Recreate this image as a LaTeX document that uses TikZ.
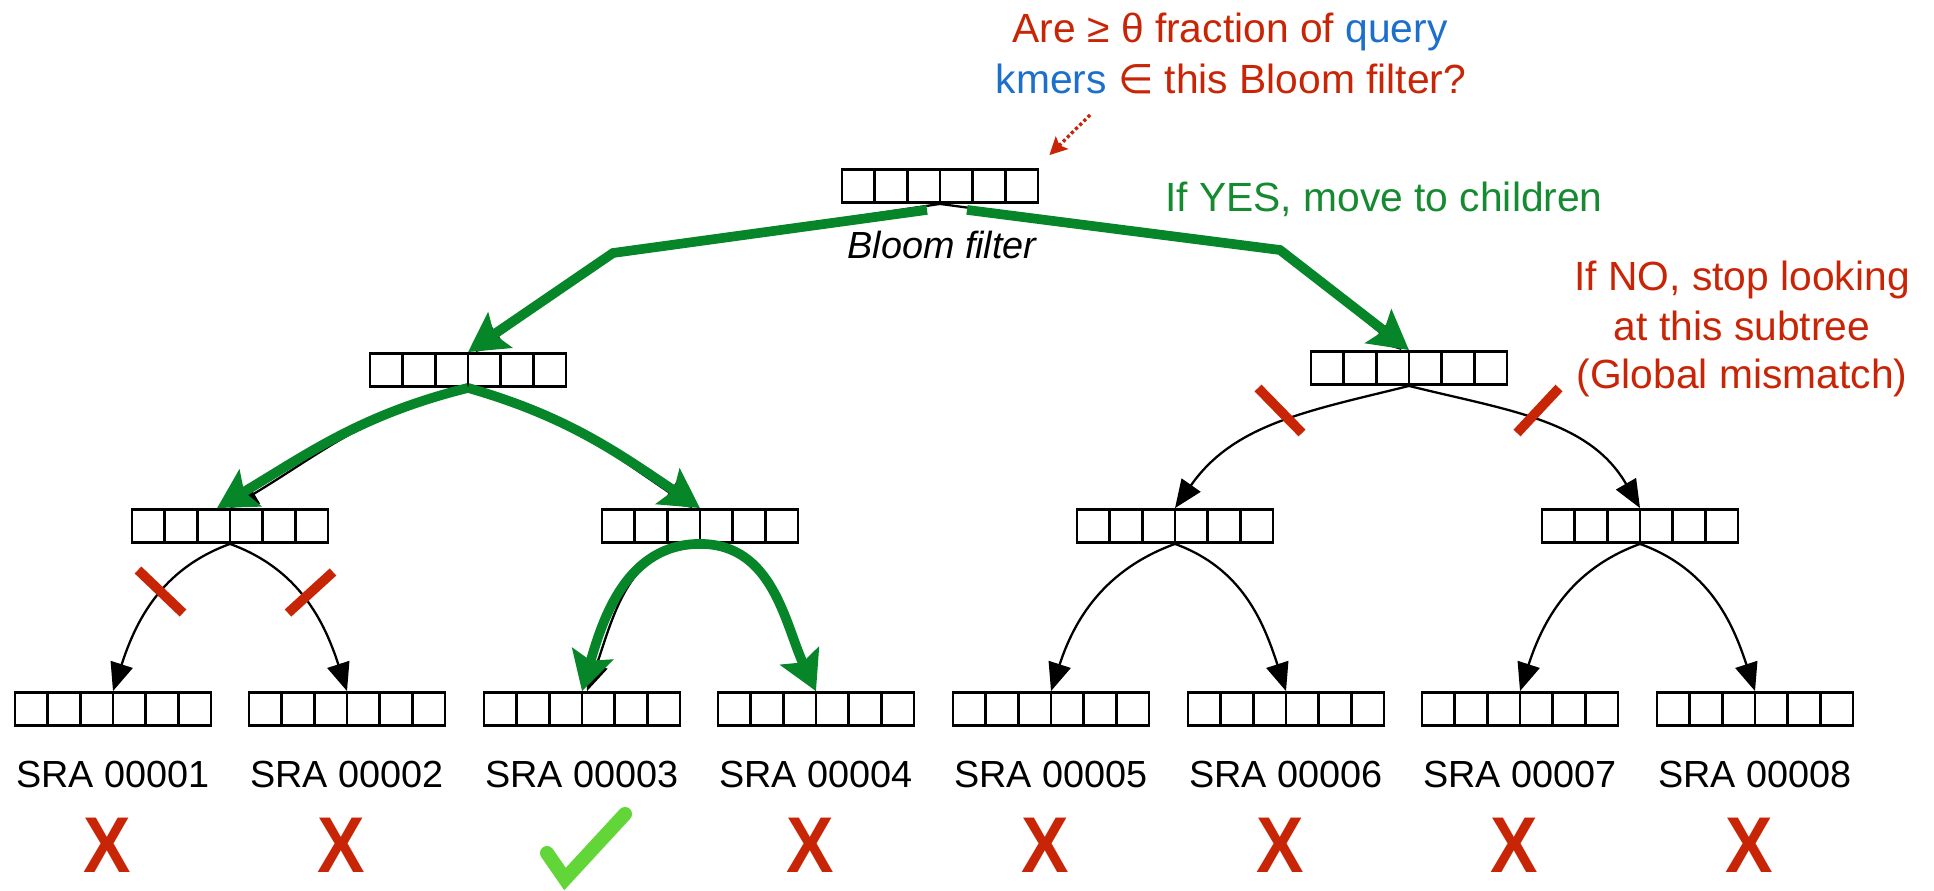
\documentclass[tikz,border=0pt]{standalone}
\usepackage{graphicx}
\usepackage{fontspec}
\setmainfont{Liberation Sans}
\newfontfamily\symbolfont{DejaVu Sans}
\usetikzlibrary{arrows.meta}

\definecolor{qred}{HTML}{C82506}
\definecolor{qblue}{HTML}{1C6FCB}
\definecolor{yesgreen}{HTML}{158A30}
\definecolor{pathgreen}{HTML}{068628}
\definecolor{tickgreen}{HTML}{62D638}

\tikzset{
  bloom/.style={draw, line width=1.6pt, minimum width=39.2mm, minimum height=6.6mm, inner sep=0pt,
    path picture={\foreach \k in {1,...,5}
      \draw[line width=1.6pt] ([xshift=\k*6.5333mm]path picture bounding box.south west)
        -- ([xshift=\k*6.5333mm]path picture bounding box.north west);}},
  link/.style={line width=1.3pt, -{Triangle[length=16pt,width=13pt]}},
  hit/.style={pathgreen, line width=5.5pt, -{Stealth[length=22pt,width=24pt,inset=4pt]}},
  cutmark/.style={qred, line width=5.5pt},
  hintarrow/.style={qred, line width=1.9pt, dash pattern=on 1.8pt off 1.5pt,
    -{Stealth[length=10pt,width=10pt,inset=2pt]}},
  note/.style={font=\fontsize{23.2}{28}\selectfont, anchor=base, inner sep=0pt},
  sra/.style={font=\fontsize{21.5}{26}\selectfont, anchor=base, inner sep=0pt},
  nomatch/.style={qred, font=\bfseries\fontsize{45}{50}\selectfont, anchor=base, inner sep=0pt},
}

\begin{document}
\begin{tikzpicture}[x=0.2mm, y=-0.2mm]
\useasboundingbox (0,0) rectangle (1934,890);

% ---------- query at the root ----------
\node[note, qred] (ask1) at (1230,42) {Are ≥ θ fraction of \textcolor{qblue}{query}};
\node[note, qred] (ask2) at (1231,93) {\textcolor{qblue}{kmers} {\symbolfont ∈} this Bloom filter?};
\node[note, yesgreen] (yes) at (1384,211) {If YES, move to children};
\node[note, qred] (no1) at (1742,290) {If NO, stop looking};
\node[note, qred] (no2) at (1742,340) {at this subtree};
\node[note, qred] (no3) at (1742,388) {(Global mismatch)};

% ---------- the tree of filters ----------
\node[bloom] (root) at (940,186) {};
\node[font=\itshape\fontsize{21.5}{26}\selectfont, anchor=base, inner sep=0pt] (rootlabel) at (942,258) {Bloom filter};
\node[bloom] (L) at (468,370) {};
\node[bloom] (R) at (1409,368) {};
\node[bloom] (LL) at (230,526) {};
\node[bloom] (LR) at (700,526) {};
\node[bloom] (RL) at (1175,526) {};
\node[bloom] (RR) at (1640,526) {};
\foreach \i/\x in {1/113,2/347,3/582,4/816,5/1051,6/1286,7/1520,8/1755} {
  \node[bloom] (leaf\i) at (\x,709) {};
  \node[sra] (name\i) at (\x,787) {SRA 0000\i};
}

\coordinate (askfrom) at (1090,115);
\draw[hintarrow] (askfrom) -- ([shift={(10,-13)}]root.north east);

% black edges
\coordinate (bendL) at (613,253);
\coordinate (bendR) at (1280,250);
\draw[link] (root.south) -- (bendL) -- ([xshift=1.5mm]L.north);
\draw[link] (root.south) -- (bendR) -- ([xshift=-1.5mm]R.north);
\draw[link] (L.south) to[out=-166,in=31] (LL.north);
\draw[link] (L.south) to[out=-16,in=146] ([xshift=-1.5mm]LR.north);
\draw[link] (R.south) to[out=-166,in=55] (RL.north);
\draw[link] (R.south) to[out=-14,in=120] (RR.north);
\draw[link] (LR.south) to[out=180,in=70] ([xshift=1mm]leaf3.north);
\draw[link] (LR.south) to[out=0,in=118] (leaf4.north);
\foreach \p/\a/\b in {LL/1/2, RL/5/6, RR/7/8} {
  \draw[link] (\p.south) to[out=-160,in=72] (leaf\a.north);
  \draw[link] (\p.south) to[out=-20,in=108] (leaf\b.north);
}

% search path
\draw[hit] ([shift={(-13,6)}]root.south) -- (bendL) -- (L.north);
\draw[hit] ([shift={(27,6)}]root.south) -- (bendR) -- (R.north);
\draw[hit] (L.south) to[out=-166,in=31] ([xshift=-2.6mm]LL.north);
\draw[hit] (L.south) to[out=-16,in=146] (LR.north);
\draw[hit] (LR.south) to[out=180,in=74] (leaf3.north);
\draw[hit] (LR.south) to[out=0,in=115] (leaf4.north);

% pruned branches
\draw[cutmark] (1258,388) -- (1302,433);
\draw[cutmark] (1559,388) -- (1517,433);
\draw[cutmark] (138,570) -- (183,613);
\draw[cutmark] (333,572) -- (288,613);

% results
\foreach \i in {1,2,4,5,6,7,8}
  \node[nomatch] (miss\i) at ([shift={(-6,85)}]name\i.base) {\scalebox{0.9}[1]{X}};
\draw[tickgreen, line width=8pt, line cap=round] (547,853) -- (565,879) -- (625,814);

\end{tikzpicture}
\end{document}
